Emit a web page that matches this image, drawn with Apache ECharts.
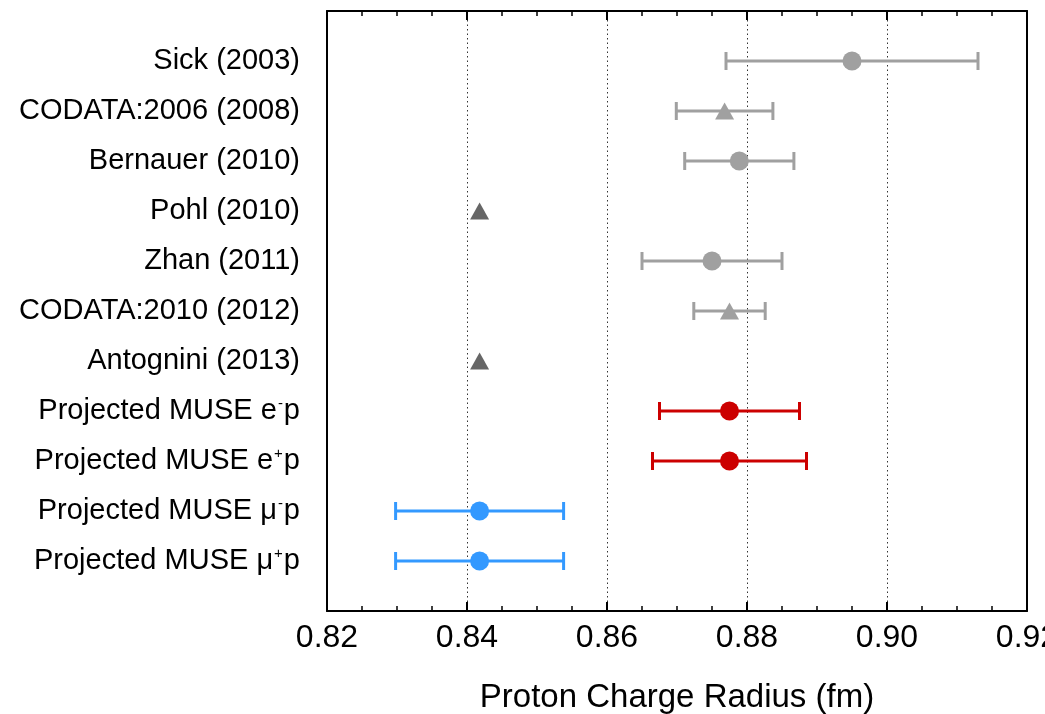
<!DOCTYPE html>
<html>
<head>
<meta charset="utf-8">
<script src="https://cdn.jsdelivr.net/npm/echarts@6/dist/echarts.min.js"></script>
<style>
html,body{margin:0;padding:0;background:#fff;}
#chart{width:1045px;height:714px;}
</style>
</head>
<body>
<div id="chart"></div>
<script>
// ---- data ----
var labels = [
  'Sick (2003)',
  'CODATA:2006 (2008)',
  'Bernauer (2010)',
  'Pohl (2010)',
  'Zhan (2011)',
  'CODATA:2010 (2012)',
  'Antognini (2013)',
  'Projected MUSE e{sup|-}p',
  'Projected MUSE e{sup|+}p',
  'Projected MUSE μ{sup|-}p',
  'Projected MUSE μ{sup|+}p'
];
var radius = [0.8950, 0.8768, 0.8789, 0.8418, 0.8750, 0.8775, 0.8418, 0.8775, 0.8775, 0.8418, 0.8418];
var errors = [0.0180, 0.0069, 0.0078, 0.0000, 0.0100, 0.0051, 0.0000, 0.0100, 0.0110, 0.0120, 0.0120];
var kinds  = ['scat', 'codata', 'scat', 'muonic', 'scat', 'codata', 'muonic', 'museE', 'museE', 'museMu', 'museMu'];
var xTicks = [0.82, 0.84, 0.86, 0.88, 0.90, 0.92];

// ---- styles ----
var kindStyle = {
  scat:   { color: '#a0a0a0', symbol: 'circle',   size: 19 },
  codata: { color: '#a0a0a0', symbol: 'triangle', size: [19, 17] },
  muonic: { color: '#666666', symbol: 'triangle', size: [19, 17] },
  museE:  { color: '#cc0000', symbol: 'circle',   size: 19 },
  museMu: { color: '#3399ff', symbol: 'circle',   size: 19 }
};

var pointData = radius.map(function (v, i) {
  var s = kindStyle[kinds[i]];
  return { value: [v, i + 1], symbol: s.symbol, symbolSize: s.size, itemStyle: { color: s.color, opacity: 1 } };
});
var errData = radius.map(function (v, i) {
  return [v - errors[i], v + errors[i], i + 1, i];
}).filter(function (d) { return errors[d[3]] > 0; });

var font = 'Liberation Sans, Arial, Helvetica, sans-serif';
var chart = echarts.init(document.getElementById('chart'), null, { renderer: 'canvas' });

var xCommon = {
  type: 'value', min: xTicks[0], max: xTicks[xTicks.length - 1], interval: 0.02,
  axisLine: { show: true, onZero: false, lineStyle: { color: '#000', width: 2 } },
  axisTick: { show: true, inside: true, length: 9, lineStyle: { color: '#000', width: 2 } },
  minorTick: { show: true, splitNumber: 4, length: 5, lineStyle: { color: '#000', width: 1.5 } }
};

chart.setOption({
  animation: false,
  backgroundColor: '#fff',
  grid: { left: 327, right: 18, top: 11, bottom: 103, containLabel: false, outerBoundsMode: 'none' },
  xAxis: [
    Object.assign({}, xCommon, {
      position: 'bottom',
      name: 'Proton Charge Radius (fm)',
      nameLocation: 'middle',
      nameGap: 70,
      nameTextStyle: { fontFamily: font, fontSize: 33, color: '#000' },
      axisLabel: {
        show: true, margin: 11, fontFamily: font, fontSize: 32, color: '#000',
        formatter: function (v) { return v.toFixed(2); }
      },
      splitLine: { show: true, lineStyle: { color: '#333', width: 1, type: [1.5, 3] } }
    }),
    Object.assign({}, xCommon, {
      position: 'top',
      axisLabel: { show: false },
      splitLine: { show: false }
    })
  ],
  yAxis: [
    {
      type: 'value', min: 0, max: 12, interval: 1, inverse: true, position: 'left',
      axisLine: { show: true, onZero: false, lineStyle: { color: '#000', width: 2 } },
      axisTick: { show: false },
      splitLine: { show: false },
      axisLabel: {
        show: true, margin: 27, fontFamily: font, fontSize: 29, color: '#000',
        formatter: function (v) {
          var i = Math.round(v) - 1;
          return (i >= 0 && i < labels.length) ? labels[i] : '';
        },
        rich: {
          sup: { fontFamily: font, fontSize: 15, color: '#000', verticalAlign: 'top', padding: [0, 1, 15, 1] }
        }
      }
    },
    {
      type: 'value', min: 0, max: 12, interval: 1, inverse: true, position: 'right',
      axisLine: { show: true, onZero: false, lineStyle: { color: '#000', width: 2 } },
      axisTick: { show: false }, axisLabel: { show: false }, splitLine: { show: false }
    }
  ],
  series: [
    {
      type: 'custom',
      xAxisIndex: 0, yAxisIndex: 0,
      data: errData,
      encode: { x: [0, 1], y: 2 },
      renderItem: function (params, api) {
        var i = api.value(3);
        var color = kindStyle[kinds[i]].color;
        var a = api.coord([api.value(0), api.value(2)]);
        var b = api.coord([api.value(1), api.value(2)]);
        var h = 9;
        var st = { stroke: color, lineWidth: 3 };
        return {
          type: 'group',
          children: [
            { type: 'line', shape: { x1: a[0], y1: a[1], x2: b[0], y2: b[1] }, style: st },
            { type: 'line', shape: { x1: a[0], y1: a[1] - h, x2: a[0], y2: a[1] + h }, style: st },
            { type: 'line', shape: { x1: b[0], y1: b[1] - h, x2: b[0], y2: b[1] + h }, style: st }
          ]
        };
      },
      z: 2
    },
    {
      type: 'scatter',
      xAxisIndex: 0, yAxisIndex: 0,
      data: pointData,
      itemStyle: { opacity: 1 },
      z: 3
    }
  ]
});
</script>
</body>
</html>
